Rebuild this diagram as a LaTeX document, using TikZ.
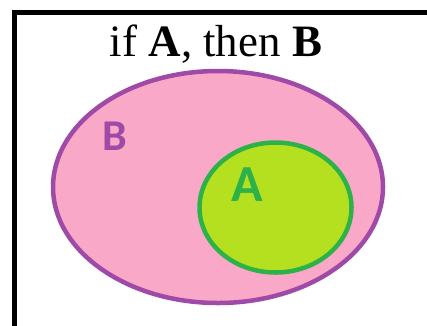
\documentclass[tikz,border=0pt]{standalone}
\usepackage{fontspec}
\setmainfont{Liberation Serif}
\newfontfamily\labfont{Carlito}
\definecolor{pinkfill}{HTML}{F9A8C8}
\definecolor{purpline}{HTML}{A04AA8}
\definecolor{limefill}{HTML}{B5E020}
\definecolor{greenline}{HTML}{2DB24A}
\begin{document}
\begin{tikzpicture}[x=1pt,y=-1pt,
  frame/.style={line width=5pt,black},
  setB/.style={fill=pinkfill,draw=purpline,line width=4.5pt},
  setA/.style={fill=limefill,draw=greenline,line width=4.5pt},
  lab/.style={font=\labfont\bfseries\fontsize{44}{44}\selectfont,inner sep=0pt}]
\useasboundingbox (0,0) rectangle (427,325);
\fill[white] (0,0) rectangle (427,325);
\coordinate (fbl) at (14.5,330);
\coordinate (ftl) at (14.5,12.5);
\coordinate (ftr) at (432,12.5);
\draw[frame] (fbl) -- (ftl) -- (ftr);
\node[inner sep=0pt,anchor=base] (title) at (216,56)
  {\resizebox{212pt}{!}{\fontsize{40}{40}\selectfont if \textbf{A}, then \textbf{B}}};
\draw[setB] (218,187) ellipse [x radius=165,y radius=116];
\draw[setA] (275.5,207.5) ellipse [x radius=76,y radius=65];
\node[lab,text=purpline] (labB) at (115,136.5) {B};
\node[lab,text=greenline,font=\labfont\bfseries\fontsize{52}{52}\selectfont] (labA) at (247.5,185) {A};
\end{tikzpicture}
\end{document}
